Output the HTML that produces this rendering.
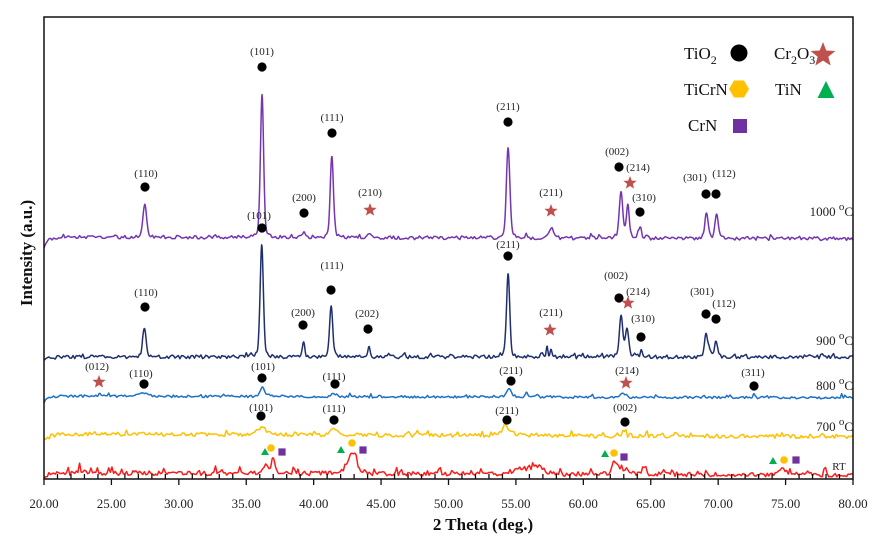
<!DOCTYPE html>
<html><head><meta charset="utf-8">
<style>
html,body{margin:0;padding:0;background:#fff;}
svg{display:block;font-family:"Liberation Serif","Times New Roman",serif;}
.lb{font-size:11px;fill:#222;text-anchor:middle;}
.tk{font-size:13px;fill:#222;text-anchor:middle;}
.tl{font-size:13px;fill:#222;text-anchor:end;}
.lg{font-size:17px;fill:#111;}
</style></head>
<body>
<svg id="s" width="875" height="544" viewBox="0 0 875 544" xmlns="http://www.w3.org/2000/svg">
<rect width="875" height="544" fill="#fff"/>
<g id="curves" fill="none" stroke-width="1.5" stroke-linejoin="round"></g>
<!-- frame -->
<rect x="44" y="17" width="809" height="462" fill="none" stroke="#111" stroke-width="1.5"/>
<g id="ticks" stroke="#111" stroke-width="1.3"></g>
<!-- tick labels -->
<g class="tk">
<text x="44" y="508">20.00</text><text x="111.4" y="508">25.00</text><text x="178.8" y="508">30.00</text>
<text x="246.2" y="508">35.00</text><text x="313.7" y="508">40.00</text><text x="381.1" y="508">45.00</text>
<text x="448.5" y="508">50.00</text><text x="515.9" y="508">55.00</text><text x="583.3" y="508">60.00</text>
<text x="650.7" y="508">65.00</text><text x="718.2" y="508">70.00</text><text x="785.6" y="508">75.00</text>
<text x="853" y="508">80.00</text>
</g>
<text x="483" y="530" font-size="17" font-weight="bold" text-anchor="middle" fill="#111">2 Theta (deg.)</text>
<text transform="translate(32,253) rotate(-90)" font-size="17" font-weight="bold" text-anchor="middle" fill="#111">Intensity (a.u.)</text>

<!-- legend -->
<text class="lg" x="684" y="59">TiO<tspan dy="5" font-size="12">2</tspan></text>
<circle cx="739" cy="53" r="8.5" fill="#000"/>
<text class="lg" x="774" y="59">Cr<tspan dy="5" font-size="12">2</tspan><tspan dy="-5">O</tspan><tspan dy="5" font-size="12">3</tspan></text>
<path id="lgstar" fill="#C0504D" d=""/>
<text class="lg" x="684" y="95">TiCrN</text>
<polygon points="729,89 734,80.5 744,80.5 749,89 744,97.5 734,97.5" fill="#FFC000"/>
<text class="lg" x="775" y="95">TiN</text>
<polygon points="826,81 834.5,98 817.5,98" fill="#00B050"/>
<text class="lg" x="688" y="131">CrN</text>
<rect x="733" y="119" width="14" height="14" fill="#7030A0"/>

<!-- markers & labels -->
<g id="marks"></g>

<g class="lb">
<text x="146" y="177">(110)</text><text x="262" y="55">(101)</text><text x="304" y="201">(200)</text>
<text x="332" y="121">(111)</text><text x="370" y="196">(210)</text><text x="508" y="110">(211)</text>
<text x="551" y="196">(211)</text><text x="617" y="155">(002)</text><text x="638" y="171">(214)</text>
<text x="644" y="201">(310)</text><text x="695" y="181">(301)</text><text x="724" y="177">(112)</text>
<text x="259" y="219">(101)</text><text x="332" y="269">(111)</text><text x="146" y="296">(110)</text>
<text x="303" y="316">(200)</text><text x="367" y="317">(202)</text><text x="508" y="248">(211)</text>
<text x="551" y="316">(211)</text><text x="616" y="279">(002)</text><text x="638" y="295">(214)</text>
<text x="643" y="322">(310)</text><text x="702" y="295">(301)</text><text x="724" y="307">(112)</text>
<text x="97" y="370">(012)</text><text x="141" y="377">(110)</text><text x="263" y="370">(101)</text>
<text x="334" y="380">(111)</text><text x="511" y="374">(211)</text><text x="627" y="374">(214)</text>
<text x="753" y="376">(311)</text>
<text x="261" y="411">(101)</text><text x="334" y="412">(111)</text><text x="507" y="414">(211)</text>
<text x="625" y="411">(002)</text>
</g>
<text class="tl" x="853" y="216">1000 <tspan dy="-6" font-size="11">o</tspan><tspan dy="6">C</tspan></text>
<text class="tl" x="853" y="345">900 <tspan dy="-6" font-size="11">o</tspan><tspan dy="6">C</tspan></text>
<text class="tl" x="853" y="390">800 <tspan dy="-6" font-size="11">o</tspan><tspan dy="6">C</tspan></text>
<text class="tl" x="853" y="431">700 <tspan dy="-6" font-size="11">o</tspan><tspan dy="6">C</tspan></text>
<text class="lb" x="839" y="470">RT</text>
</svg>
<script>
(function(){
var NS="http://www.w3.org/2000/svg";
function rng(seed){return function(){seed|=0;seed=seed+0x6D2B79F5|0;var t=Math.imul(seed^seed>>>15,1|seed);t=t+Math.imul(t^t>>>7,61|t)^t;return((t^t>>>14)>>>0)/4294967296;};}
function X(t){return 44+(t-20)*809/60;}
function el(tag,attrs,parent){var e=document.createElementNS(NS,tag);for(var k in attrs)e.setAttribute(k,attrs[k]);parent.appendChild(e);return e;}
var curves=document.getElementById('curves');
function series(c){
  var r=rng(c.seed);var cs=c.cstep,n=Math.ceil(60/cs)+2,noise=[];
  for(var i=0;i<n;i++){var v=(r()-0.5)*2*c.amp;if(r()<c.spk)v-=r()*c.spkA;noise.push(v);}
  var d='';
  for(var t=20;t<=80.0001;t+=0.03){
    var y=c.base+c.slope*(t-20)+c.drop*Math.exp(-(t-20)/c.dropw);
    for(var j=0;j<c.peaks.length;j++){
      var p=c.peaks[j];var z=(t-p[0])/p[2];
      var g=Math.exp(-0.5*z*z);var hw=1.1774*p[2];var u=(t-p[0])/hw;var l=1/(1+u*u);
      y-=p[1]*(0.75*g+0.25*l);
    }
    var f=(t-20)/cs,i0=Math.floor(f),fr=f-i0;
    y+=noise[i0]*(1-fr)+noise[i0+1]*fr;
    if(y>478)y=478;
    d+=(d?'L':'M')+X(t).toFixed(2)+','+y.toFixed(2);
  }
  el('path',{d:d,stroke:c.color},curves);
}
// RT
series({seed:11,color:'#FF1A1A',base:473,slope:0.03,drop:5,dropw:0.3,amp:2.2,cstep:0.12,spk:0.12,spkA:6,
 peaks:[[22.6,3,0.1],[26.8,3,0.1],[36.5,6,0.35],[37.0,11,0.13],[42.5,6,0.4],[42.78,16,0.15],[43.12,14,0.15],
 [55.4,5,0.5],[56.6,8,0.45],[62.3,11,0.2],[62.9,5,0.35],[74.8,6,0.3]]});
// 700
series({seed:23,color:'#FFC000',base:434,slope:0.045,drop:9,dropw:0.35,amp:2.0,cstep:0.13,spk:0.08,spkA:4,
 peaks:[[36.1,7,0.35],[41.5,6,0.3],[54.3,8,0.4],[63.0,6,0.08]]});
// 800
series({seed:37,color:'#1E72C4',base:396,slope:0.03,drop:7,dropw:0.3,amp:1.2,cstep:0.12,spk:0.07,spkA:3,
 peaks:[[24.15,3,0.08],[27.4,3,0.3],[36.2,10,0.16],[41.5,3,0.2],[54.5,9,0.18],[55.8,4,0.08],[56.6,2,0.1],[63.0,3,0.2],[72.65,5,0.07]]});
// 900
series({seed:53,color:'#1F2F6E',base:357,slope:0.0,drop:5,dropw:0.3,amp:1.8,cstep:0.12,spk:0.1,spkA:4,
 peaks:[[27.45,29,0.13],[36.15,113,0.12],[39.25,14,0.09],[41.3,50,0.12],[44.1,9,0.09],[54.42,84,0.12],
 [57.3,9,0.07],[57.6,8,0.07],[62.8,42,0.13],[63.25,28,0.13],[64.3,6,0.08],[69.1,23,0.13],[69.85,15,0.13]]});
// 1000
series({seed:71,color:'#7535B0',base:237,slope:0.03,drop:10,dropw:0.3,amp:1.8,cstep:0.12,spk:0.1,spkA:4,
 peaks:[[27.47,33,0.13],[36.17,142,0.12],[39.25,6,0.1],[41.35,82,0.12],[44.15,5,0.15],[54.42,91,0.13],
 [57.62,8,0.2],[62.8,47,0.13],[63.3,32,0.11],[64.2,9,0.1],[69.13,24,0.13],[69.88,24,0.13]]});

// ticks
var tg=document.getElementById('ticks');
for(var k=20;k<=80;k++){
  var x=X(k);
  if(k%5==0) el('line',{x1:x,y1:479,x2:x,y2:485},tg);
  else el('line',{x1:x,y1:474,x2:x,y2:479},tg);
}
// markers
var mg=document.getElementById('marks');
function star(cx,cy,R,ri){var d='';for(var i=0;i<10;i++){var a=-Math.PI/2+i*Math.PI/5;var rr=i%2?ri:R;d+=(i?'L':'M')+(cx+rr*Math.cos(a)).toFixed(2)+','+(cy+rr*Math.sin(a)).toFixed(2);}return d+'Z';}
document.getElementById('lgstar').setAttribute('d',star(823,55,13,5.6));
function C(x,y){el('circle',{cx:x,cy:y,r:4.6,fill:'#000'},mg);}
function S(x,y){el('path',{d:star(x,y,7,3),fill:'#C0504D'},mg);}
function tri(x,y){el('polygon',{points:(x)+','+(y-4)+' '+(x+4)+','+(y+3)+' '+(x-4)+','+(y+3),fill:'#00B050'},mg);}
function hc(x,y){el('circle',{cx:x,cy:y,r:3.8,fill:'#FFC000'},mg);}
function sq(x,y){el('rect',{x:x-3.6,y:y-3.6,width:7.2,height:7.2,fill:'#7030A0'},mg);}
C(145,187);C(262,67);C(304,213);C(332,133);S(370,210);C(508,122);S(551,211);C(619,167);S(630,183);C(640,212);C(706,194);C(716,194);
C(262,228);C(331,290);C(145,307);C(303,325);C(368,329);C(508,256);S(550,330);C(619,298);S(628,303);C(641,337);C(706,314);C(716,319);
S(99,382);C(144,384);C(262,378);C(335,384);C(511,381);S(626,383);C(754,386);
C(261,416);C(334,420);C(507,420);C(625,422);
tri(265,452);hc(271,448);sq(282,452);
tri(341,450);hc(352,443);sq(363,450);
tri(605,454);hc(614,453);sq(624,457);
tri(773,461);hc(784,460);sq(796,460);
})();
</script>
</body></html>
